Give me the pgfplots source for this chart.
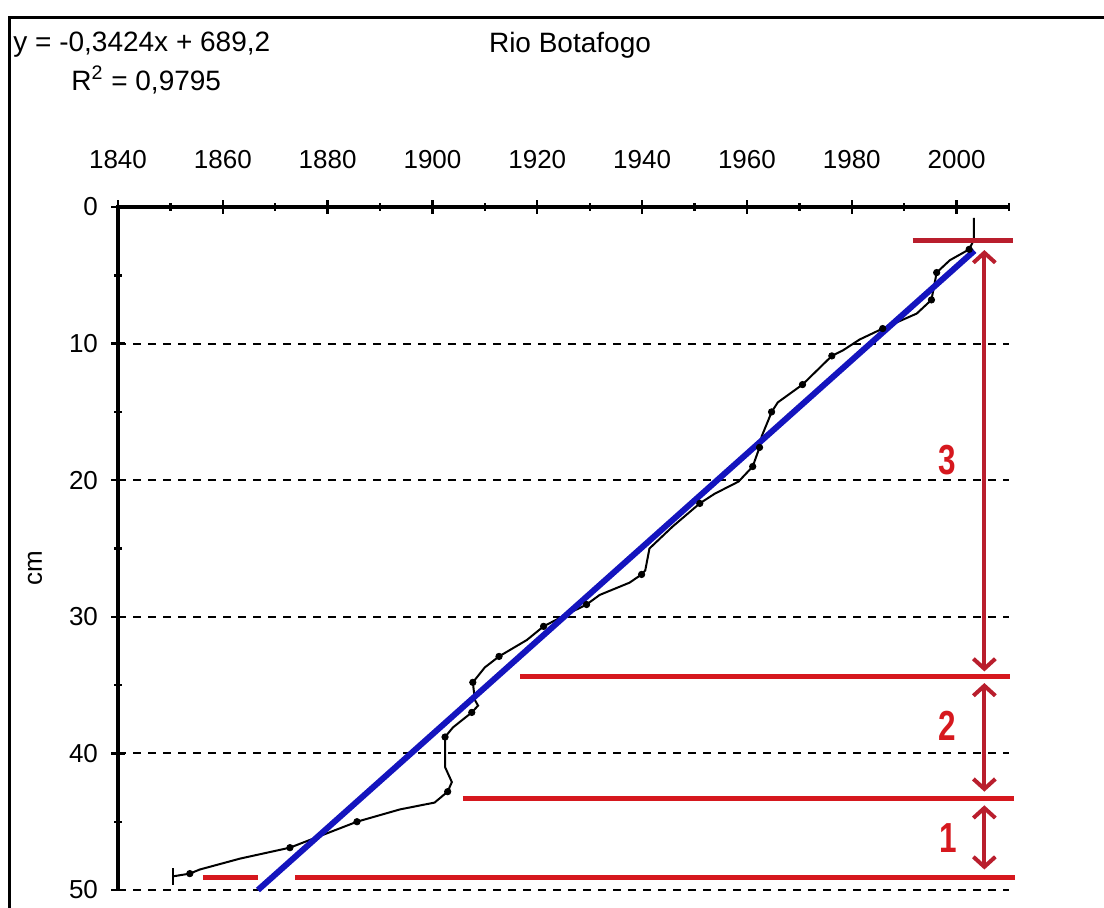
\documentclass[border=0pt]{standalone}
\usepackage{fontspec}
\setmainfont{Liberation Sans}
\usepackage{pgfplots}
\pgfplotsset{compat=1.18}
\usetikzlibrary{arrows.meta}
\definecolor{redA}{RGB}{214,24,30}
\definecolor{redB}{RGB}{185,30,45}
\definecolor{blueL}{RGB}{20,20,190}

\begin{document}
\begin{tikzpicture}
\begin{scope}[x=0.5pt,y=-0.5pt]
\useasboundingbox (0,0) rectangle (1104,908);
\draw[line width=1.5pt] (9,908) -- (9,18) -- (1104,18);
\node[anchor=west, font=\fontsize{14}{16}\selectfont, inner sep=0] at (13,45) {y = -0,3424x + 689,2};
\node[anchor=west, font=\fontsize{14}{16}\selectfont, inner sep=0] at (71,80) {R\textsuperscript{2} = 0,9795};
\node[font=\fontsize{14}{16}\selectfont, inner sep=0] at (570,45) {Rio Botafogo};
\node[rotate=90, font=\fontsize{13}{15}\selectfont, inner sep=0] at (35,568) {cm};
\end{scope}

\begin{axis}[
  at={(59pt,-103.5pt)}, anchor=north west,
  scale only axis, width=445.5pt, height=341.5pt,
  xmin=1840, xmax=2010, ymin=0, ymax=50, y dir=reverse,
  axis line style={draw=none},
  xtick={1840,1860,...,2000}, minor xtick={1850,1870,...,2010},
  ytick={0,10,...,50}, minor ytick={5,15,...,45},
  xtick pos=right, xticklabel pos=right, ytick pos=left,
  tick align=center, major tick length=7pt, minor tick length=4pt,
  tick style={black, line width=1.2pt},
  ymajorgrids,
  major grid style={black, line width=1pt, dash pattern=on 4pt off 3.5pt},
  ticklabel style={font=\fontsize{13}{15}\selectfont},
  xticklabel style={yshift=12pt},
  yticklabel style={xshift=-3pt},
  /pgf/number format/assume math mode=true,
  /pgf/number format/1000 sep={},
  clip=false,
]
% data curve
\addplot[black, line width=1pt] coordinates {
(2003.3,0.8) (2003.3,2.4) (2002.4,3.1) (1998.7,3.9) (1996.2,4.8) (1995.2,6.8)
(1992.4,7.8) (1985.9,8.9) (1981.5,9.7) (1978.3,10.5) (1976.2,10.9) (1970.6,13.0)
(1965.9,14.3) (1964.7,15.0) (1964.3,15.4) (1962.8,16.8) (1962.4,17.6) (1961.1,19.0)
(1958.4,20.1) (1953.8,21.0) (1951.0,21.7) (1945.8,23.4) (1941.4,25.0) (1940.6,26.6)
(1939.9,26.9) (1937.6,27.5) (1931.9,28.4) (1929.4,29.1) (1925.2,29.9) (1921.2,30.7)
(1918.0,31.7) (1912.7,32.9) (1910.0,33.7) (1907.7,34.8) (1908.1,36.1) (1908.7,36.5)
(1907.5,37.0) (1903.9,38.1) (1902.4,38.8) (1902.4,41.0) (1903.7,42.1) (1902.9,42.8)
(1900.4,43.6) (1893.8,44.1) (1885.6,45.0) (1872.8,46.9) (1863.3,47.7) (1855.6,48.5)
(1853.7,48.8) (1850.5,49.0)
};
\addplot[black, line width=1pt] coordinates {(1850.5,48.4) (1850.5,49.6)};
\addplot[black, only marks, mark=*, mark size=1.6pt] coordinates {
(2002.4,3.1) (1996.2,4.8) (1995.2,6.8) (1985.9,8.9) (1976.2,10.9) (1970.6,13.0)
(1964.7,15.0) (1962.4,17.6) (1961.1,19.0) (1951.0,21.7) (1939.9,26.9) (1929.4,29.1)
(1921.2,30.7) (1912.7,32.9) (1907.7,34.8) (1907.5,37.0) (1902.4,38.8) (1902.9,42.8)
(1885.6,45.0) (1872.8,46.9) (1853.7,48.8)
};
% trend line
\addplot[blueL, line width=3pt] coordinates {(1866.7,50.0) (2003.4,3.2)};
% red horizontal lines
\addplot[redB, line width=2.5pt] coordinates {(1991.6,2.42) (2010.7,2.42)};
\addplot[redA, line width=2.5pt] coordinates {(1916.7,34.4) (2010.1,34.4)};
\addplot[redA, line width=2.5pt] coordinates {(1905.8,43.3) (2010.9,43.3)};
\addplot[redA, line width=2.5pt] coordinates {(1856.2,49.05) (1866.7,49.05)};
\addplot[redA, line width=2.5pt] coordinates {(1873.8,49.05) (2011.2,49.05)};
% arrows
\addplot[redB, line width=2pt, arrows={Straight Barb[length=5pt,width=11pt]-Straight Barb[length=5pt,width=11pt]}] coordinates {(2005.3,3.15) (2005.3,34.0)};
\addplot[redB, line width=2pt, arrows={Straight Barb[length=5pt,width=11pt]-Straight Barb[length=5pt,width=11pt]}] coordinates {(2005.3,34.85) (2005.3,42.8)};
\addplot[redB, line width=2pt, arrows={Straight Barb[length=5pt,width=11pt]-Straight Barb[length=5pt,width=11pt]}] coordinates {(2005.3,43.8) (2005.3,48.5)};
\node[text=redA, font=\bfseries\fontsize{21}{21}\selectfont, xscale=0.75] at (axis cs:1998.3,18.5) {3};
\node[text=redA, font=\bfseries\fontsize{21}{21}\selectfont, xscale=0.75] at (axis cs:1998.3,38.0) {2};
\node[text=redA, font=\bfseries\fontsize{21}{21}\selectfont, xscale=0.75] at (axis cs:1998.5,46.2) {1};
% axis lines
\draw[black, line width=1.6pt] (axis cs:1840,50) -- (axis cs:1840,0) -- (axis cs:2010,0);
\end{axis}
\end{tikzpicture}
\end{document}
